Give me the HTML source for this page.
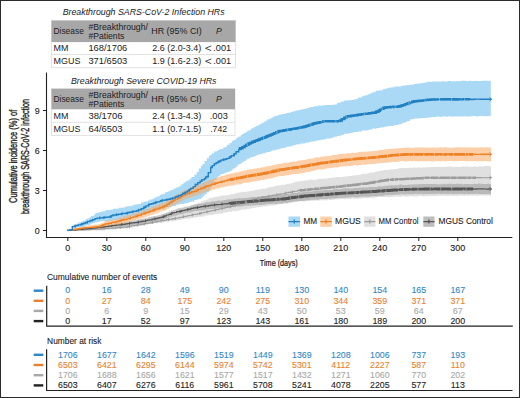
<!DOCTYPE html>
<html><head><meta charset="utf-8"><style>
html,body{margin:0;padding:0;background:#fff;}
body{width:520px;height:398px;overflow:hidden;position:relative;font-family:"Liberation Sans",sans-serif;}
#frame{position:absolute;left:0;top:0;width:518px;height:396px;border:1px solid #2a2a2a;}
svg{position:absolute;left:0;top:0;}
svg text{font-family:"Liberation Sans",sans-serif;}
</style></head><body>
<div id="frame"></div>
<svg width="520" height="398" viewBox="0 0 520 398">
<g id="plot">
<path d="M67.7,230.5V230.5H69.3V229.9H71.4V230.2H73.1V229.6H75.3V229.4H77.5V229.5H78.8V229.2H80.0V229.0H82.6V229.1H84.2V228.7H85.8V228.3H88.6V228.0H90.5V228.1H93.1V227.6H95.0V227.6H97.2V227.1H98.7V226.8H100.9V226.8H103.5V226.7H105.5V226.1H107.9V226.2H110.2V226.0H111.5V225.8H113.9V225.5H116.0V224.8H117.7V225.0H119.0V225.0H121.6V224.2H123.5V224.1H125.9V223.8H128.5V223.6H130.8V223.2H133.5V222.9H135.3V222.7H137.8V221.9H139.7V221.6H142.4V221.3H145.0V221.0H146.4V220.7H147.8V221.1H149.3V220.7H152.1V219.9H154.0V219.7H156.2V219.1H157.9V218.6H159.9V218.2H161.7V217.9H163.5V217.4H165.6V216.7H167.7V216.1H170.4V215.3H172.7V214.1H175.3V213.2H177.9V212.2H180.7V210.9H183.0V209.9H184.4V209.0H187.0V207.9H189.8V206.7H192.4V205.7H194.5V204.4H196.9V203.8H198.4V202.7H200.9V201.6H203.0V200.7H204.7V200.2H206.0V199.5H208.6V198.1H211.4V197.7H212.7V197.3H215.2V196.8H217.0V196.7H218.5V196.5H220.1V195.8H222.6V195.6H225.2V195.3H226.4V195.3H228.6V194.9H229.9V194.2H232.2V194.1H234.0V193.6H236.6V192.8H239.4V192.4H241.4V191.8H244.2V191.9H245.9V191.6H247.2V191.4H249.3V191.1H250.6V190.9H252.1V190.7H254.0V190.3H256.1V189.7H257.6V189.8H258.8V189.2H261.4V188.8H263.1V188.7H265.9V187.7H268.5V187.3H270.3V186.9H272.2V187.0H274.3V186.1H276.5V185.6H278.7V185.6H280.8V184.8H283.0V184.7H285.7V184.1H287.7V183.8H289.6V183.4H291.9V182.7H293.5V182.5H295.2V181.5H297.9V181.4H300.0V180.9H302.0V180.9H303.3V180.4H305.1V180.5H307.3V180.5H308.5V179.8H310.7V179.7H312.9V179.7H314.2V179.7H316.4V179.2H318.3V178.9H320.6V178.8H322.4V178.8H324.7V178.6H327.1V178.2H328.3V178.1H329.6V177.9H331.9V177.6H334.7V177.5H336.3V177.1H338.2V177.1H340.3V177.2H342.0V176.7H343.8V176.7H345.5V176.2H347.3V176.3H349.5V176.1H351.2V175.8H353.0V175.5H355.4V175.2H356.6V175.1H358.7V174.8H361.1V174.0H362.8V173.7H364.4V173.7H366.9V173.5H368.4V173.0H369.9V172.6H371.8V172.4H374.2V171.8H375.5V171.5H377.2V171.2H379.0V171.0H381.5V170.5H383.4V170.0H386.0V170.1H387.4V170.0H389.2V169.4H391.4V169.3H394.0V168.9H396.0V168.9H397.5V168.6H398.9V168.2H401.0V168.1H402.5V167.9H405.0V168.0H407.5V167.9H409.0V167.7H410.6V167.7H413.1V167.6H415.4V167.8H417.8V167.3H419.6V167.7H421.0V167.4H422.7V167.4H425.1V167.2H426.8V167.3H428.5V167.3H430.4V167.0H432.3V167.0H434.1V167.1H436.8V167.1H438.2V166.8H439.5V167.0H442.2V167.1H444.8V166.8H447.5V166.6H449.4V166.6H452.2V166.9H454.8V166.8H456.4V167.0H458.8V166.9H461.3V166.5H463.6V166.4H465.6V166.4H467.3V166.4H469.0V166.7H470.6V166.7H471.9V166.8H474.0V166.3H475.7V166.7H478.2V166.3H479.5V166.4H482.1V166.5H484.4V166.1H487.1V166.1H489.7V166.5H491.0V195.7H489.7V195.4H487.1V195.7H484.4V195.3H482.1V195.4H479.5V195.5H478.2V195.7H475.7V195.5H474.0V195.7H471.9V195.5H470.6V195.6H469.0V196.0H467.3V195.5H465.6V195.7H463.6V195.8H461.3V195.6H458.8V196.0H456.4V195.8H454.8V195.9H452.2V195.7H449.4V195.7H447.5V196.0H444.8V195.8H442.2V195.8H439.5V195.8H438.2V195.9H436.8V196.1H434.1V195.9H432.3V196.0H430.4V196.0H428.5V196.2H426.8V196.0H425.1V196.4H422.7V196.1H421.0V196.0H419.6V196.1H417.8V196.4H415.4V196.4H413.1V196.3H410.6V196.3H409.0V196.5H407.5V196.7H405.0V196.3H402.5V196.4H401.0V196.7H398.9V196.6H397.5V196.5H396.0V196.8H394.0V196.8H391.4V197.0H389.2V197.2H387.4V197.1H386.0V197.0H383.4V197.1H381.5V197.1H379.0V197.2H377.2V197.3H375.5V197.6H374.2V197.9H371.8V197.8H369.9V198.1H368.4V198.2H366.9V198.2H364.4V198.1H362.8V198.4H361.1V198.5H358.7V198.7H356.6V198.6H355.4V198.8H353.0V198.5H351.2V198.9H349.5V199.1H347.3V198.8H345.5V199.3H343.8V199.1H342.0V199.0H340.3V199.2H338.2V199.3H336.3V199.3H334.7V199.7H331.9V200.0H329.6V199.7H328.3V200.2H327.1V200.3H324.7V200.2H322.4V200.3H320.6V200.5H318.3V200.5H316.4V200.4H314.2V200.8H312.9V200.7H310.7V200.9H308.5V201.1H307.3V201.2H305.1V201.4H303.3V201.5H302.0V201.1H300.0V201.8H297.9V202.0H295.2V202.3H293.5V202.7H291.9V202.7H289.6V203.2H287.7V203.6H285.7V203.7H283.0V204.0H280.8V204.3H278.7V204.5H276.5V205.2H274.3V205.4H272.2V205.6H270.3V205.4H268.5V206.2H265.9V206.2H263.1V206.5H261.4V207.0H258.8V207.3H257.6V207.3H256.1V207.7H254.0V207.9H252.1V208.5H250.6V208.8H249.3V209.1H247.2V209.3H245.9V209.4H244.2V209.6H241.4V210.0H239.4V210.7H236.6V211.2H234.0V211.1H232.2V211.5H229.9V211.9H228.6V212.0H226.4V212.8H225.2V212.8H222.6V213.4H220.1V213.6H218.5V213.8H217.0V214.0H215.2V214.4H212.7V215.0H211.4V215.0H208.6V215.6H206.0V215.6H204.7V216.4H203.0V216.4H200.9V216.7H198.4V217.1H196.9V217.6H194.5V217.8H192.4V218.3H189.8V218.7H187.0V218.8H184.4V219.1H183.0V219.5H180.7V220.0H177.9V220.5H175.3V220.9H172.7V221.3H170.4V221.6H167.7V221.7H165.6V221.8H163.5V222.5H161.7V222.3H159.9V222.8H157.9V223.2H156.2V223.0H154.0V223.5H152.1V223.8H149.3V223.9H147.8V224.4H146.4V224.8H145.0V225.2H142.4V225.5H139.7V226.1H137.8V226.3H135.3V227.0H133.5V227.5H130.8V228.2H128.5V228.6H125.9V228.5H123.5V229.0H121.6V229.1H119.0V229.2H117.7V229.1H116.0V229.5H113.9V229.7H111.5V229.6H110.2V230.1H107.9V229.8H105.5V230.4H103.5V230.6H100.9V230.3H98.7V230.6H97.2V230.4H95.0V230.3H93.1V230.5H90.5V230.4H88.6V230.8H85.8V230.6H84.2V230.3H82.6V230.5H80.0V230.5H78.8V230.4H77.5V230.2H75.3V230.6H73.1V230.5H71.4V230.4H69.3V230.4H67.7Z" fill="#c7c7c7" fill-opacity="0.55"/>
<path d="M67.7,230.1V229.9H69.6V229.6H72.3V229.1H74.0V229.2H75.6V228.8H77.2V228.6H79.7V228.3H82.0V228.3H83.7V227.9H85.1V227.5H87.3V227.0H90.1V226.9H92.2V226.8H93.5V226.7H94.7V226.6H96.0V226.3H97.5V225.8H98.8V225.6H100.1V225.7H102.3V225.3H104.9V224.8H106.5V224.7H109.2V224.2H111.2V223.7H113.7V223.2H116.3V222.7H119.0V222.8H120.3V222.7H122.0V222.4H124.2V221.7H126.9V221.5H128.2V221.4H129.9V221.0H132.4V220.6H133.8V220.2H135.7V220.0H137.4V219.4H139.7V218.9H142.4V218.8H143.8V218.6H146.2V217.8H148.6V217.1H151.1V216.6H153.2V216.1H155.9V215.8H157.7V215.2H159.5V215.1H161.1V214.0H163.6V213.3H165.5V212.7H167.2V212.0H168.6V211.5H171.0V210.6H173.2V209.9H175.5V209.1H177.3V208.3H179.3V208.2H180.7V207.7H183.1V207.2H184.3V206.7H186.3V206.4H188.7V206.0H191.0V205.1H192.3V205.0H193.9V204.4H196.4V204.0H198.7V203.8H201.3V203.4H203.9V202.8H205.8V202.2H208.4V202.2H210.8V201.4H212.5V201.3H214.3V201.4H215.6V200.9H217.5V200.6H220.2V200.8H221.6V200.6H223.7V200.0H225.1V199.9H226.4V199.6H228.6V199.3H230.2V199.2H231.5V199.5H232.9V198.7H235.2V198.6H237.3V198.4H238.5V198.1H240.1V198.2H242.8V198.1H244.4V198.0H246.5V197.7H248.4V197.6H250.8V196.9H253.0V196.9H255.4V197.1H257.5V196.4H259.0V196.4H260.5V196.4H261.8V196.1H264.3V196.1H265.7V195.7H266.9V195.7H269.7V196.0H271.2V195.3H273.8V195.6H275.2V195.1H277.1V195.4H278.7V195.1H281.2V194.9H283.4V194.3H285.6V194.0H288.0V194.0H290.6V193.3H292.4V193.1H294.5V193.1H296.5V192.9H297.8V192.2H300.4V192.4H302.5V192.0H305.0V191.7H306.6V191.4H308.6V191.4H310.6V191.6H312.9V191.0H314.3V190.8H316.0V190.6H318.0V190.5H319.3V190.5H321.4V190.6H323.8V189.9H325.6V189.8H327.9V190.1H330.0V190.0H331.6V189.8H333.3V189.2H336.1V189.1H337.9V189.3H339.8V188.9H341.1V188.9H342.6V188.6H344.1V188.3H346.8V188.3H349.2V188.4H351.8V188.3H354.5V188.0H356.7V187.8H359.4V187.7H361.5V187.5H363.3V187.4H366.1V187.4H368.7V186.9H371.4V187.0H373.4V187.0H375.8V186.9H377.7V186.3H380.5V186.5H383.1V186.3H384.8V185.7H387.5V185.6H389.0V185.5H390.4V185.2H392.7V185.6H394.4V185.1H396.4V185.3H398.6V184.7H399.9V184.5H402.3V185.0H403.9V184.9H405.8V184.9H407.6V184.7H410.0V184.5H412.4V184.6H414.0V184.2H415.4V184.4H417.1V184.3H418.9V184.1H420.3V184.3H421.7V184.1H424.1V184.1H426.4V184.0H429.2V183.9H432.0V183.9H434.6V184.0H436.4V184.3H437.8V184.2H439.5V184.2H441.5V184.2H443.5V183.8H445.6V184.2H447.3V183.8H449.9V183.7H451.6V183.9H453.5V184.1H456.1V183.8H458.6V184.0H460.3V183.8H461.9V184.2H464.4V183.9H465.6V183.9H467.0V183.9H469.0V184.1H471.1V184.2H472.6V183.9H473.9V183.8H475.4V183.9H477.8V183.6H479.8V183.8H482.5V184.0H485.0V184.0H487.7V183.5H489.0V184.0H490.5V183.7H491.0V194.5H490.5V194.2H489.0V193.9H487.7V194.0H485.0V194.2H482.5V194.0H479.8V194.1H477.8V193.8H475.4V193.9H473.9V194.1H472.6V194.0H471.1V193.9H469.0V194.0H467.0V193.8H465.6V194.2H464.4V193.9H461.9V194.0H460.3V193.8H458.6V193.9H456.1V194.0H453.5V194.1H451.6V193.8H449.9V194.0H447.3V193.9H445.6V193.8H443.5V194.0H441.5V194.0H439.5V193.6H437.8V193.7H436.4V194.0H434.6V194.0H432.0V194.1H429.2V193.9H426.4V194.1H424.1V194.2H421.7V193.9H420.3V194.0H418.9V194.2H417.1V193.8H415.4V193.9H414.0V194.3H412.4V194.2H410.0V194.2H407.6V194.2H405.8V194.5H403.9V194.3H402.3V194.3H399.9V194.6H398.6V194.6H396.4V194.4H394.4V194.9H392.7V195.1H390.4V195.0H389.0V195.3H387.5V195.1H384.8V195.5H383.1V195.9H380.5V195.7H377.7V196.3H375.8V196.3H373.4V196.0H371.4V196.4H368.7V196.7H366.1V196.5H363.3V196.8H361.5V196.8H359.4V197.2H356.7V197.2H354.5V196.9H351.8V197.3H349.2V197.6H346.8V197.7H344.1V197.7H342.6V197.7H341.1V198.0H339.8V197.8H337.9V198.2H336.1V198.4H333.3V198.3H331.6V198.7H330.0V198.5H327.9V198.9H325.6V199.0H323.8V199.0H321.4V199.1H319.3V199.4H318.0V199.7H316.0V199.6H314.3V199.7H312.9V199.8H310.6V200.1H308.6V200.3H306.6V200.2H305.0V200.8H302.5V201.0H300.4V201.0H297.8V201.3H296.5V201.2H294.5V201.6H292.4V201.9H290.6V202.3H288.0V203.0H285.6V202.8H283.4V203.5H281.2V203.6H278.7V203.4H277.1V203.9H275.2V203.6H273.8V203.8H271.2V204.0H269.7V203.9H266.9V204.1H265.7V204.5H264.3V204.7H261.8V204.9H260.5V204.9H259.0V204.8H257.5V205.1H255.4V205.2H253.0V205.2H250.8V205.8H248.4V205.6H246.5V205.7H244.4V206.1H242.8V206.4H240.1V206.8H238.5V206.5H237.3V206.8H235.2V207.2H232.9V207.1H231.5V207.1H230.2V207.2H228.6V207.7H226.4V207.8H225.1V208.2H223.7V207.8H221.6V208.3H220.2V208.1H217.5V208.5H215.6V208.5H214.3V209.1H212.5V209.1H210.8V209.2H208.4V209.5H205.8V210.1H203.9V210.5H201.3V210.5H198.7V210.9H196.4V211.0H193.9V211.4H192.3V212.3H191.0V212.5H188.7V212.8H186.3V213.1H184.3V213.8H183.1V214.3H180.7V214.2H179.3V214.8H177.3V215.4H175.5V215.8H173.2V216.4H171.0V217.3H168.6V217.9H167.2V218.4H165.5V219.0H163.6V220.1H161.1V220.2H159.5V220.7H157.7V220.9H155.9V221.3H153.2V222.1H151.1V222.7H148.6V222.8H146.2V223.3H143.8V223.9H142.4V224.1H139.7V224.4H137.4V225.0H135.7V224.8H133.8V225.3H132.4V225.4H129.9V226.0H128.2V226.1H126.9V226.4H124.2V226.7H122.0V226.8H120.3V227.2H119.0V227.2H116.3V227.2H113.7V227.7H111.2V228.0H109.2V228.1H106.5V228.4H104.9V228.9H102.3V229.1H100.1V229.2H98.8V229.2H97.5V229.5H96.0V229.8H94.7V229.7H93.5V229.6H92.2V229.7H90.1V229.9H87.3V230.0H85.1V230.1H83.7V230.4H82.0V230.6H79.7V230.4H77.2V230.8H75.6V230.7H74.0V230.5H72.3V230.7H69.6V231.2H67.7Z" fill="#999999" fill-opacity="0.55"/>
<path d="M67.7,230.5V230.2H70.3V229.7H72.3V225.3H74.2V224.3H75.5V224.1H77.1V223.3H78.8V222.3H81.5V221.6H82.9V220.8H85.6V219.3H87.6V218.2H89.5V217.3H91.1V215.9H93.8V214.7H95.3V213.1H97.4V212.6H99.5V212.1H101.0V211.7H102.5V211.3H105.3V210.3H107.8V210.1H110.1V209.7H112.8V208.8H114.2V208.7H116.5V208.5H118.9V207.8H120.4V207.8H122.4V207.5H125.1V206.8H126.9V206.3H129.3V205.9H130.7V205.8H133.0V205.1H134.6V204.6H136.6V204.2H138.4V203.9H141.0V202.6H143.4V201.7H145.4V201.5H147.7V200.4H149.6V199.6H152.1V199.0H153.7V197.8H155.8V196.7H157.9V196.2H159.7V195.1H161.0V194.4H162.5V193.9H164.7V192.6H166.3V192.1H168.7V190.9H170.7V189.9H173.4V188.6H176.0V187.6H178.3V186.5H180.1V185.5H181.4V184.3H183.5V182.5H185.9V181.1H188.5V179.7H190.1V178.6H191.5V177.0H194.3V174.7H196.7V171.9H198.7V168.6H201.0V165.8H202.5V163.9H204.5V160.9H206.8V158.3H209.0V155.9H210.4V154.4H211.9V153.3H214.1V151.4H216.7V150.9H218.1V149.9H219.3V149.2H220.6V148.9H223.1V147.6H224.9V147.0H226.8V144.7H229.6V142.9H231.8V141.0H233.4V139.9H235.8V138.4H237.0V137.4H238.6V136.4H240.9V135.1H242.4V134.1H243.7V133.0H245.7V132.1H247.4V130.4H250.2V129.6H251.5V128.3H254.0V127.0H255.8V126.0H258.3V124.7H260.2V123.6H262.5V122.6H264.2V121.6H265.8V120.6H267.7V119.3H270.2V118.2H271.9V117.5H273.5V116.3H275.4V115.9H276.7V115.4H278.4V114.7H280.5V114.2H282.6V114.1H284.8V113.4H286.4V113.0H287.7V112.8H288.9V112.7H290.7V112.0H292.2V111.5H294.3V111.1H295.9V110.4H298.3V110.1H300.5V109.5H302.8V109.0H305.1V108.4H307.2V107.9H309.0V107.6H310.7V106.9H312.0V106.9H314.5V105.9H316.5V106.2H317.9V105.6H320.6V105.8H322.7V105.2H324.9V104.9H326.8V105.1H328.2V105.1H331.0V104.9H332.5V104.7H334.2V104.5H337.0V103.1H338.4V102.7H340.4V101.7H342.4V101.4H344.0V100.4H346.7V100.4H348.5V100.3H349.8V100.2H351.7V99.9H352.9V99.8H355.3V98.9H357.8V97.6H360.5V97.4H361.8V96.2H364.1V95.4H365.7V95.2H367.7V94.2H369.4V93.7H371.1V92.8H372.5V92.2H374.7V91.8H376.0V90.8H378.8V90.5H380.0V90.2H382.8V89.2H384.3V89.0H385.6V88.5H388.0V87.8H390.1V87.5H392.5V87.2H394.5V86.5H396.7V86.4H398.0V86.4H400.3V86.3H402.3V85.6H405.1V85.6H406.3V85.1H407.6V85.3H409.9V84.7H412.6V84.4H414.4V84.1H416.8V83.5H418.9V83.5H420.7V83.3H422.6V83.0H424.8V82.4H426.1V82.2H427.7V81.8H430.1V82.0H431.7V81.6H433.7V81.6H435.3V81.6H437.1V81.6H439.3V81.4H441.7V81.3H444.4V81.5H446.4V81.5H447.9V81.1H449.7V81.0H451.0V81.5H452.5V81.3H454.7V81.2H456.9V81.0H458.4V81.3H459.9V80.9H461.3V80.8H462.8V80.7H464.8V80.8H466.4V80.9H469.0V80.7H471.1V81.1H472.8V80.9H474.7V80.8H476.0V80.9H478.4V80.9H480.8V80.9H482.6V80.8H484.9V80.8H486.6V80.8H488.1V81.0H489.7V80.6H490.8V116.2H489.7V116.0H488.1V116.3H486.6V115.9H484.9V116.3H482.6V115.9H480.8V116.0H478.4V116.4H476.0V116.0H474.7V116.0H472.8V115.9H471.1V116.6H469.0V116.6H466.4V116.3H464.8V116.2H462.8V116.5H461.3V116.4H459.9V116.6H458.4V116.6H456.9V116.4H454.7V116.5H452.5V116.7H451.0V116.6H449.7V116.3H447.9V116.7H446.4V116.4H444.4V116.4H441.7V116.9H439.3V116.4H437.1V116.7H435.3V117.2H433.7V117.0H431.7V117.5H430.1V117.4H427.7V117.7H426.1V118.0H424.8V117.9H422.6V117.9H420.7V118.3H418.9V118.6H416.8V118.4H414.4V119.1H412.6V119.4H409.9V120.9H407.6V121.6H406.3V122.2H405.1V122.7H402.3V123.9H400.3V124.4H398.0V125.0H396.7V125.1H394.5V125.7H392.5V126.1H390.1V126.1H388.0V126.6H385.6V126.7H384.3V127.3H382.8V127.4H380.0V127.9H378.8V128.3H376.0V128.8H374.7V128.6H372.5V129.4H371.1V129.5H369.4V129.9H367.7V130.4H365.7V130.5H364.1V130.6H361.8V131.4H360.5V131.6H357.8V132.0H355.3V132.3H352.9V132.7H351.7V132.9H349.8V133.3H348.5V133.7H346.7V133.8H344.0V134.7H342.4V135.3H340.4V135.9H338.4V136.1H337.0V136.8H334.2V137.6H332.5V138.0H331.0V138.4H328.2V138.4H326.8V138.9H324.9V139.4H322.7V139.7H320.6V140.2H317.9V140.5H316.5V141.0H314.5V141.6H312.0V141.6H310.7V141.9H309.0V142.6H307.2V142.8H305.1V143.4H302.8V143.5H300.5V144.2H298.3V144.4H295.9V144.9H294.3V145.6H292.2V146.2H290.7V146.5H288.9V146.8H287.7V146.7H286.4V147.5H284.8V147.9H282.6V148.3H280.5V149.0H278.4V149.6H276.7V149.7H275.4V150.3H273.5V150.5H271.9V151.2H270.2V151.9H267.7V152.2H265.8V153.2H264.2V153.3H262.5V154.1H260.2V154.5H258.3V155.2H255.8V156.2H254.0V156.9H251.5V157.5H250.2V158.4H247.4V159.8H245.7V160.9H243.7V161.9H242.4V163.0H240.9V164.1H238.6V165.5H237.0V166.8H235.8V168.3H233.4V169.5H231.8V170.9H229.6V171.9H226.8V172.8H224.9V173.5H223.1V174.0H220.6V175.6H219.3V176.2H218.1V177.5H216.7V179.9H214.1V184.3H211.9V187.8H210.4V190.1H209.0V192.3H206.8V194.2H204.5V196.3H202.5V198.0H201.0V198.7H198.7V199.6H196.7V200.0H194.3V201.4H191.5V202.1H190.1V202.3H188.5V203.0H185.9V203.6H183.5V204.1H181.4V204.1H180.1V204.4H178.3V204.8H176.0V206.0H173.4V206.2H170.7V207.2H168.7V207.3H166.3V208.2H164.7V208.7H162.5V208.9H161.0V209.5H159.7V210.0H157.9V210.0H155.8V210.6H153.7V211.0H152.1V211.5H149.6V212.2H147.7V212.9H145.4V213.3H143.4V214.0H141.0V214.4H138.4V215.1H136.6V215.7H134.6V216.3H133.0V216.6H130.7V217.2H129.3V217.7H126.9V218.1H125.1V218.9H122.4V219.7H120.4V219.5H118.9V220.0H116.5V220.3H114.2V220.3H112.8V220.9H110.1V221.2H107.8V221.2H105.3V221.0H102.5V221.2H101.0V221.2H99.5V222.0H97.4V222.3H95.3V222.9H93.8V223.5H91.1V224.6H89.5V225.2H87.6V225.6H85.6V226.4H82.9V226.6H81.5V227.2H78.8V227.3H77.1V227.5H75.5V227.5H74.2V228.2H72.3V230.2H70.3V230.6H67.7Z" fill="#64baef" fill-opacity="0.55"/>
<path d="M67.7,230.1V230.1H70.2V229.6H71.7V228.7H74.2V228.4H76.1V227.8H77.6V227.9H78.9V227.1H81.2V226.6H83.3V226.2H85.0V226.2H87.5V225.6H89.0V225.4H91.0V225.2H92.3V225.0H94.1V224.6H96.7V224.6H98.7V224.0H100.1V223.5H101.7V222.8H103.9V221.5H105.6V220.8H108.2V220.8H109.5V220.0H112.1V219.8H114.3V219.2H116.8V218.4H118.6V217.9H119.9V217.4H121.3V217.3H123.5V216.6H124.8V216.2H126.2V215.5H128.6V214.8H131.2V214.3H133.8V213.0H136.3V212.5H138.4V211.8H141.0V210.8H143.3V209.9H145.4V209.1H147.3V208.3H148.5V208.2H149.9V207.7H151.5V206.8H153.4V206.0H154.8V205.6H157.6V204.3H159.7V203.5H162.1V202.8H164.7V202.0H166.3V200.4H168.9V198.3H171.6V197.4H173.3V196.0H174.7V195.0H177.1V193.9H179.8V192.4H182.2V191.1H184.1V189.7H186.3V189.5H187.6V188.7H189.2V187.8H191.1V187.5H193.5V186.9H194.8V185.6H197.5V185.0H198.7V184.4H201.5V183.1H203.1V182.1H205.6V181.3H208.1V180.1H210.8V179.6H212.8V178.7H215.1V178.0H216.8V177.3H219.3V176.4H220.7V176.1H223.3V175.4H225.4V174.8H226.7V174.3H229.4V173.7H231.1V173.2H232.4V173.3H234.1V172.7H235.3V172.2H237.0V172.2H239.3V171.4H242.1V171.0H244.3V170.3H246.8V169.7H249.4V169.3H251.7V169.2H253.5V168.6H255.1V168.8H256.6V168.1H258.7V168.2H260.2V167.4H262.6V167.2H264.3V166.7H266.4V166.3H268.5V166.0H270.7V165.5H272.1V165.3H273.7V164.7H276.0V164.3H277.6V163.9H279.9V163.8H282.6V162.9H284.4V162.8H287.2V162.7H289.3V162.1H292.1V161.6H294.1V161.7H296.5V160.8H298.8V160.5H300.3V160.2H302.3V160.1H304.5V159.9H306.4V159.2H308.7V158.8H311.3V158.6H313.8V157.7H316.3V157.3H317.7V157.4H320.0V156.7H322.2V156.6H324.9V156.1H326.2V156.2H327.6V156.0H330.4V155.5H332.2V155.1H334.5V155.0H336.7V154.7H338.5V154.1H340.4V154.0H342.5V153.8H345.3V153.6H347.3V153.2H349.8V153.2H351.5V152.8H353.8V152.9H356.0V152.4H358.4V152.1H361.0V151.8H362.3V151.7H365.1V151.5H367.2V151.7H368.8V151.3H370.8V151.2H372.1V151.3H373.7V151.1H376.3V150.8H378.6V150.1H381.2V149.9H382.6V149.8H384.0V149.5H385.8V149.3H387.8V148.9H390.2V148.7H391.8V148.8H394.2V148.6H396.3V148.3H398.0V148.2H400.5V148.1H401.8V148.1H403.9V147.5H405.4V147.9H406.7V147.6H408.7V147.6H410.7V147.9H412.9V147.8H414.7V147.6H417.4V147.4H419.8V147.6H421.3V147.6H422.5V147.5H425.2V147.4H427.1V147.7H428.4V147.5H429.9V147.8H432.2V147.6H433.7V147.5H435.5V147.8H437.8V147.5H439.6V147.3H441.8V147.4H444.5V147.3H447.0V147.5H449.2V147.8H451.4V147.8H453.1V147.6H455.3V147.3H457.6V147.3H459.7V147.3H461.7V147.4H464.1V147.6H465.6V147.2H468.0V147.5H470.7V147.4H472.0V147.6H473.6V147.6H476.4V147.4H477.7V147.5H480.2V147.3H482.3V147.4H483.6V147.5H485.8V147.1H487.1V147.4H489.6V147.4H491.0V161.4H489.6V161.5H487.1V161.0H485.8V161.1H483.6V161.3H482.3V161.2H480.2V161.2H477.7V161.4H476.4V161.1H473.6V161.2H472.0V161.2H470.7V161.0H468.0V161.3H465.6V161.0H464.1V161.1H461.7V160.9H459.7V160.9H457.6V161.3H455.3V161.3H453.1V160.9H451.4V161.0H449.2V161.1H447.0V161.3H444.5V161.1H441.8V161.3H439.6V161.3H437.8V161.1H435.5V161.4H433.7V161.4H432.2V161.3H429.9V161.0H428.4V161.1H427.1V161.2H425.2V161.3H422.5V161.2H421.3V161.0H419.8V161.4H417.4V161.2H414.7V160.9H412.9V161.2H410.7V161.1H408.7V161.3H406.7V161.4H405.4V161.4H403.9V161.1H401.8V161.1H400.5V161.6H398.0V161.9H396.3V162.0H394.2V161.8H391.8V162.2H390.2V162.4H387.8V162.7H385.8V162.8H384.0V162.9H382.6V163.1H381.2V163.3H378.6V163.4H376.3V163.8H373.7V164.1H372.1V164.0H370.8V164.1H368.8V164.2H367.2V164.7H365.1V164.6H362.3V164.9H361.0V164.9H358.4V165.4H356.0V165.0H353.8V165.8H351.5V165.9H349.8V166.1H347.3V166.5H345.3V166.3H342.5V166.6H340.4V166.7H338.5V167.5H336.7V167.6H334.5V167.8H332.2V168.0H330.4V168.2H327.6V168.6H326.2V168.8H324.9V169.2H322.2V169.4H320.0V169.6H317.7V170.1H316.3V170.3H313.8V171.0H311.3V171.8H308.7V172.1H306.4V172.4H304.5V172.9H302.3V173.4H300.3V173.6H298.8V173.9H296.5V173.9H294.1V174.1H292.1V174.8H289.3V175.3H287.2V175.6H284.4V176.1H282.6V176.0H279.9V176.3H277.6V176.7H276.0V177.3H273.7V178.0H272.1V178.3H270.7V178.4H268.5V179.0H266.4V179.5H264.3V180.0H262.6V180.1H260.2V180.7H258.7V180.7H256.6V181.4H255.1V181.5H253.5V181.4H251.7V182.3H249.4V182.8H246.8V182.8H244.3V183.3H242.1V184.2H239.3V184.6H237.0V184.6H235.3V185.2H234.1V185.4H232.4V185.4H231.1V185.8H229.4V186.0H226.7V186.7H225.4V186.8H223.3V187.5H220.7V187.8H219.3V188.5H216.8V188.5H215.1V189.6H212.8V189.9H210.8V190.9H208.1V191.6H205.6V192.6H203.1V193.3H201.5V194.4H198.7V194.7H197.5V195.5H194.8V196.5H193.5V196.8H191.1V197.4H189.2V198.2H187.6V198.5H186.3V199.2H184.1V200.2H182.2V201.4H179.8V202.6H177.1V203.9H174.7V205.1H173.3V205.5H171.6V207.3H168.9V208.8H166.3V210.2H164.7V210.8H162.1V211.6H159.7V212.6H157.6V213.5H154.8V213.7H153.4V214.7H151.5V214.9H149.9V215.7H148.5V216.0H147.3V216.7H145.4V217.4H143.3V218.2H141.0V218.7H138.4V219.5H136.3V220.1H133.8V220.7H131.2V221.4H128.6V222.5H126.2V222.9H124.8V223.1H123.5V223.5H121.3V223.9H119.9V224.4H118.6V224.6H116.8V225.1H114.3V225.7H112.1V226.1H109.5V226.0H108.2V226.5H105.6V227.2H103.9V227.7H101.7V229.0H100.1V229.5H98.7V229.1H96.7V229.3H94.1V229.0H92.3V229.4H91.0V229.3H89.0V229.2H87.5V229.3H85.0V229.4H83.3V229.6H81.2V229.8H78.9V229.8H77.6V229.9H76.1V230.2H74.2V230.6H71.7V230.5H70.2V230.6H67.7Z" fill="#f9a862" fill-opacity="0.55"/>
<path d="M67.7,230.5V230.4H69.8V230.3H71.8V230.2H74.0V230.1H75.6V230.1H76.9V230.0H79.0V230.0H81.7V230.0H83.0V229.9H85.8V229.6H87.6V229.6H90.4V229.5H92.8V229.4H94.4V229.2H96.0V229.0H98.6V229.1H101.4V228.9H103.9V228.6H106.0V228.5H108.1V228.2H110.5V228.2H113.0V228.1H115.6V227.9H117.2V227.5H119.8V227.5H122.5V227.3H124.6V227.0H125.8V227.1H127.3V226.6H129.6V226.3H131.4V225.8H134.1V225.5H136.3V225.3H138.7V224.8H140.1V224.6H142.1V224.3H144.5V223.6H147.1V223.3H149.8V223.0H151.4V222.6H153.4V222.1H156.2V221.6H157.5V221.5H158.8V221.2H160.3V220.8H162.7V220.6H164.4V220.2H166.7V219.6H169.3V219.2H171.8V218.9H173.0V218.6H175.3V218.2H177.8V217.7H180.1V217.3H182.7V216.7H185.2V216.2H187.4V215.8H190.0V215.3H192.1V214.9H193.4V214.5H195.1V214.2H197.8V213.8H199.5V213.4H201.5V212.7H204.1V212.3H206.4V211.6H208.8V211.3H210.8V210.8H212.8V210.5H214.1V210.2H215.6V209.6H217.1V209.5H219.1V208.8H221.2V208.7H222.5V208.3H224.7V207.7H226.1V207.4H227.9V207.0H229.1V206.9H231.1V206.3H232.5V205.7H235.2V205.0H237.0V204.2H239.5V203.7H241.5V203.0H243.2V202.3H245.7V201.7H247.4V201.2H249.4V200.4H251.6V199.7H254.4V199.0H256.7V198.5H258.0V198.1H259.9V197.7H262.7V197.2H265.2V196.8H267.0V196.6H268.4V196.1H270.1V195.8H272.5V195.3H274.0V195.1H276.6V194.8H278.2V194.4H280.5V194.0H282.8V193.7H284.4V193.3H286.4V192.8H288.6V192.4H290.3V192.1H292.3V191.6H294.5V191.3H297.3V190.7H298.9V190.5H300.4V190.4H302.4V190.1H304.6V189.8H306.5V189.8H309.2V189.4H310.7V189.4H312.7V189.2H314.7V189.1H316.2V188.8H318.1V188.6H320.1V188.3H321.9V188.1H324.3V188.1H327.1V187.6H329.8V187.3H331.4V187.4H333.2V187.1H335.9V186.9H337.2V186.8H338.6V186.6H339.9V186.3H342.6V186.1H344.6V186.0H346.5V185.8H347.9V185.4H350.5V185.1H353.3V184.9H355.6V184.5H358.2V184.5H360.3V184.2H362.0V183.9H363.5V183.8H365.2V183.7H366.6V183.3H368.4V183.1H369.7V183.0H371.0V182.6H373.6V182.2H376.2V181.6H378.7V181.4H380.4V181.0H382.4V180.6H384.4V180.1H386.9V179.8H388.6V179.6H390.6V179.6H392.7V179.4H395.2V179.3H397.0V179.3H398.2V179.2H400.0V179.1H402.6V179.1H404.1V178.8H406.3V178.9H407.7V178.9H409.4V178.8H411.6V178.8H412.9V178.4H414.9V178.5H417.0V178.3H418.8V178.4H421.2V178.1H423.8V178.1H425.4V178.0H427.8V177.7H430.3V177.6H432.4V177.8H434.6V177.8H436.7V177.7H439.0V177.6H441.3V177.6H443.0V177.8H445.2V177.8H447.6V177.7H449.5V177.8H452.1V177.8H453.8V177.6H455.9V177.8H458.0V177.8H460.2V177.8H461.7V177.8H464.0V177.7H465.3V177.7H467.4V177.6H469.3V177.8H471.6V177.7H474.2V177.7H477.0V177.6H478.5V177.6H481.2V177.7H483.2V177.8H485.2V177.7H486.4V177.8H489.0V177.6H490.6V177.6H491.0" fill="none" stroke="#9c9c9c" stroke-width="1.1"/>
<path d="M300.0,190.5V190.4H301.6V190.2H303.2V190.1H305.7V189.8H307.5V189.7H309.2V189.4H311.5V189.3H313.4V189.0H316.0V188.8H318.3V188.6H320.9V188.2H322.8V188.0H324.6V187.9H326.5V187.7H329.3V187.4H332.0V187.2H334.1V187.0H336.1V186.9H337.4V186.7H340.0V186.5H342.2V186.1H344.0V186.0H345.5V185.8H347.4V185.5H349.8V185.4H351.4V185.1H353.0V185.0H355.0V184.8H357.0V184.5H358.3V184.4H359.6V184.2H361.3V183.9H363.7V183.7H365.5V183.6H366.7V183.4H368.3V183.1H369.8V182.8H372.2V182.5H373.8V182.0H376.6V181.6H378.2V181.4H379.7V181.1H381.0V180.8H382.9V180.6H385.0V180.2H387.4V179.7H389.7V179.7H391.8V179.7H393.0V179.5H395.7V179.4H397.3V179.2H398.9V179.1H400.4V179.2H402.5V179.1H404.8V178.9H406.5V178.9H408.1V178.7H409.3V178.8H411.5V178.6H413.8V178.5H415.2V178.4H416.8V178.3H419.2V178.2H421.5V178.2H422.9V177.9H425.7V177.8H428.1V177.7H430.4V177.7H432.1V177.8H434.9V177.7H436.8V177.8H439.0V177.7H441.8V177.7H444.3V177.7H445.8V177.8H447.2V177.7H448.7V177.7H450.1V177.7H452.7V177.6H454.8V177.7H456.8V177.7H458.5V177.7H460.5V177.7H462.4V177.7H464.8V177.7H466.7V177.7H469.2V177.6H471.8V177.8H474.4V177.8H476.0" fill="none" stroke="#9c9c9c" stroke-width="2.4" stroke-dasharray="14 1 9 0.9 17 1"/>
<path d="M67.7,230.5V230.5H69.8V230.1H71.7V230.0H73.4V230.1H75.4V229.7H77.2V229.5H78.8V229.4H81.5V229.4H83.3V229.0H84.8V228.9H87.1V228.7H88.3V228.7H90.1V228.3H92.2V228.1H94.7V227.9H96.4V227.8H97.6V227.5H100.4V227.3H101.6V227.2H103.5V226.8H105.5V226.5H108.3V226.1H110.0V226.2H111.6V225.7H113.3V225.5H115.1V225.4H116.5V225.0H119.2V224.8H121.2V224.4H123.6V224.3H125.2V223.9H127.5V223.5H130.1V223.1H131.7V222.9H134.4V222.6H136.1V222.3H138.4V221.9H141.1V221.4H143.1V221.1H145.8V220.5H147.6V220.1H149.5V219.8H152.2V219.2H154.3V218.8H155.6V218.6H157.1V218.2H159.1V217.7H160.9V217.4H162.2V216.8H164.7V215.9H166.4V215.0H169.0V214.3H170.8V213.5H172.3V212.9H174.2V212.5H176.7V211.7H179.4V211.3H181.5V210.6H183.1V210.3H185.1V210.0H186.7V209.5H188.5V209.4H189.7V209.1H190.9V208.4H193.6V207.8H196.1V207.7H197.7V207.4H199.8V207.0H201.1V206.6H203.6V206.2H205.8V206.1H208.2V205.7H210.1V205.4H211.9V205.1H214.5V204.9H216.2V204.7H217.5V204.6H218.9V204.5H221.5V204.2H223.2V204.0H224.5V203.8H226.6V203.7H228.0V203.6H229.9V203.2H232.3V203.2H233.9V202.9H235.8V202.6H238.5V202.3H241.0V202.2H243.6V201.9H244.9V201.7H247.7V201.5H249.7V201.5H251.2V201.2H254.0V200.9H255.4V200.8H258.1V200.7H259.4V200.6H260.7V200.4H262.7V200.4H264.8V200.2H267.0V199.9H269.5V199.8H270.9V199.7H273.2V199.5H274.9V199.5H277.7V199.2H279.9V199.1H282.2V199.1H283.6V198.7H286.2V198.4H287.9V198.2H289.4V198.0H291.3V197.5H293.8V197.3H295.5V197.0H297.4V196.7H299.6V196.7H301.2V196.5H302.6V196.3H304.4V196.0H306.8V196.0H309.1V195.8H310.6V195.8H312.9V195.5H315.4V195.2H317.7V195.2H319.2V195.0H320.5V194.8H323.3V194.7H325.6V194.4H327.2V194.2H329.6V194.0H331.7V194.0H333.9V193.7H335.7V193.5H338.0V193.3H339.8V193.5H341.6V193.2H343.3V193.3H345.7V193.1H348.3V193.0H350.0V192.7H351.3V192.9H352.9V192.6H355.3V192.6H357.1V192.5H358.3V192.2H360.8V192.1H362.7V192.2H364.0V191.9H366.4V191.7H368.4V191.6H371.0V191.6H373.5V191.4H376.0V191.4H378.7V191.0H380.5V190.9H383.0V190.8H385.0V190.7H387.2V190.6H388.8V190.4H391.0V190.3H392.3V190.2H394.8V190.0H396.3V189.8H398.4V189.6H401.0V189.6H403.5V189.4H406.1V189.4H408.0V189.4H409.3V189.3H412.1V189.3H413.7V189.1H416.3V189.4H418.2V189.1H420.1V189.1H422.2V189.0H424.2V189.0H426.7V189.1H428.8V189.1H430.3V188.9H432.3V189.0H433.7V188.9H436.2V188.9H437.7V188.9H439.5V189.1H441.7V188.8H443.4V188.8H446.0V189.0H448.5V188.9H450.2V188.8H452.1V188.9H454.5V188.9H456.5V188.9H458.7V188.9H460.5V188.9H462.6V188.9H464.7V188.9H467.4V189.0H469.1V188.9H471.6V188.9H473.2V189.1H474.8V189.1H476.4V188.9H479.1V189.0H480.4V188.9H482.1V188.8H484.0V189.0H486.4V189.1H488.6V188.9H490.0V189.0H491.0" fill="none" stroke="#555555" stroke-width="1.2"/>
<path d="M230.0,203.4V203.3H232.5V203.1H233.7V202.9H235.8V202.7H237.4V202.4H239.9V202.3H242.4V202.1H245.0V201.8H247.4V201.7H248.8V201.5H251.0V201.3H253.1V201.1H254.8V201.0H256.3V200.9H258.3V200.7H260.2V200.6H262.0V200.3H264.7V200.2H266.3V200.0H268.9V199.9H270.3V199.9H272.6V199.7H274.5V199.5H276.3V199.3H278.3V199.2H279.7V199.1H281.3V199.1H283.1V199.0H284.6V198.6H287.2V198.3H289.5V197.9H291.7V197.5H294.0V197.3H295.5V197.1H296.7V196.9H298.0V196.8H300.6V196.5H302.6V196.2H305.4V196.0H307.1V195.9H308.9V195.7H311.1V195.5H313.7V195.4H315.6V195.2H317.6V195.1H319.3V195.0H320.9V194.7H323.6V194.5H326.2V194.5H328.1V194.2H329.5V194.1H332.1V193.9H334.1V193.8H336.5V193.5H338.3V193.4H339.6V193.4H342.0V193.2H343.4V193.2H346.1V193.0H347.6V192.9H349.3V192.8H350.5V192.8H352.1V192.6H354.3V192.6H355.7V192.5H357.1V192.4H358.4V192.4H359.6V192.3H361.6V192.1H363.2V192.0H365.6V191.9H367.8V191.8H369.9V191.6H372.5V191.5H375.3V191.3H377.0V191.2H379.4V191.0H381.7V191.0H383.2V190.7H385.7V190.5H386.9V190.5H389.2V190.3H391.9V190.2H394.1V190.0H396.4V189.8H398.7V189.6H400.5V189.6H401.9V189.6H403.7V189.5H405.4V189.4H407.9V189.3H410.5V189.3H413.3V189.2H415.0V189.2H417.6V189.2H420.3V189.2H421.5V189.1H423.6V189.1H424.9V188.9H426.3V189.0H428.2V188.9H430.5V189.0H432.0V188.9H433.7V188.9H435.7V188.9H437.8V189.0H439.2V188.9H440.6V189.0H441.9V189.0H443.6V188.9H446.4V188.9H447.8V189.0H450.3V188.9H452.5V189.0H455.1V189.0H457.6V188.9H458.9V189.0H460.6V188.9H463.1V189.0H465.4V189.0H467.9V188.9H469.2V188.9H471.7V189.0H473.0" fill="none" stroke="#555555" stroke-width="2.8" stroke-dasharray="18 0.9 12 0.8 22 0.9"/>
<path d="M67.7,230.5V230.2H70.2V230.0H72.3V229.7H74.2V229.3H75.8V229.1H77.7V228.7H80.4V228.4H82.6V227.9H83.9V227.9H85.4V227.8H86.7V227.6H89.3V227.4H91.9V227.3H94.6V226.9H96.5V226.7H98.2V226.7H99.5V226.5H101.1V225.7H102.8V224.8H104.6V224.1H106.4V223.7H108.7V223.3H111.3V222.6H113.1V222.3H115.6V221.7H117.3V221.5H118.9V220.8H121.4V220.4H122.7V220.0H124.1V219.5H126.9V218.9H128.8V218.4H130.7V217.6H133.1V216.9H135.7V216.2H137.5V215.5H140.0V215.0H141.4V214.1H144.0V213.2H145.9V212.6H147.7V212.2H148.9V211.8H150.2V211.1H152.1V210.7H153.5V209.8H155.7V209.1H158.5V208.3H160.2V207.5H162.6V206.6H164.7V205.7H166.9V204.2H169.3V202.8H171.3V201.4H173.8V200.1H175.3V199.1H177.6V198.0H179.6V197.0H181.2V196.2H182.7V195.1H185.4V194.1H187.7V193.3H189.7V192.8H191.7V191.8H194.2V191.2H196.4V190.4H198.0V189.4H200.7V188.2H203.2V187.4H205.7V186.2H208.0V185.6H210.3V184.9H212.0V184.2H214.8V183.2H217.1V182.8H218.6V182.2H221.1V181.7H223.0V181.5H224.3V180.9H226.9V180.2H228.4V179.9H230.3V179.6H231.7V179.4H233.7V179.0H235.8V178.4H238.3V177.9H241.0V177.3H243.6V176.9H245.9V176.4H247.7V176.1H250.4V175.5H252.0V175.3H253.7V175.0H255.8V174.6H257.6V174.2H259.7V174.0H261.1V173.9H262.7V173.5H263.9V173.3H265.8V172.9H267.4V172.5H269.9V172.0H271.5V171.7H273.0V171.3H275.3V170.7H276.9V170.4H279.4V170.0H281.4V169.6H282.9V169.5H285.2V168.9H288.0V168.7H289.7V168.4H291.8V168.1H293.9V167.6H296.6V167.2H299.4V167.0H300.7V166.8H302.5V166.3H305.0V166.0H306.8V165.6H308.8V165.4H310.9V164.8H312.2V164.8H313.4V164.3H316.1V163.9H317.9V163.6H319.8V163.3H321.9V163.1H324.3V162.7H326.9V162.4H328.3V162.0H330.5V161.8H331.7V161.6H333.8V161.2H336.3V160.9H338.2V160.6H340.0V160.4H342.6V160.2H344.9V159.8H347.6V159.6H349.6V159.6H351.3V159.4H353.6V159.1H355.6V159.0H356.8V158.9H358.2V158.5H360.9V158.3H363.2V158.2H364.4V158.1H366.8V158.1H369.2V157.6H370.5V157.7H373.3V157.5H374.8V157.2H376.8V157.1H379.1V156.9H381.1V156.4H382.9V156.4H384.8V156.1H387.0V155.8H389.8V155.3H392.4V155.3H395.2V154.9H397.6V154.8H399.6V154.8H401.4V154.6H404.0V154.5H406.7V154.3H408.4V154.5H410.8V154.4H412.6V154.4H413.9V154.3H415.9V154.5H418.5V154.3H420.5V154.5H423.0V154.3H425.6V154.5H428.1V154.4H429.7V154.4H432.4V154.3H433.7V154.5H435.7V154.3H437.1V154.4H438.9V154.4H441.5V154.5H444.0V154.5H446.8V154.4H448.9V154.3H450.9V154.4H452.4V154.2H454.4V154.4H457.0V154.5H458.8V154.2H461.3V154.2H463.0V154.4H465.5V154.3H467.0V154.4H469.7V154.4H471.1V154.5H472.5V154.3H474.6V154.4H477.0V154.4H479.4V154.4H481.2V154.3H483.6V154.4H485.1V154.3H486.8V154.4H488.5V154.3H490.0V154.3H491.0" fill="none" stroke="#ee8227" stroke-width="1.4"/>
<path d="M230.0,179.8V179.7H231.3V179.5H232.6V179.0H235.3V178.5H237.2V178.0H239.6V177.7H241.6V177.2H243.9V176.8H246.0V176.5H247.4V176.1H249.1V175.7H251.3V175.5H252.8V175.2H255.5V174.8H256.8V174.6H258.9V174.1H261.5V173.7H263.8V173.4H265.3V173.1H266.6V172.8H269.0V172.3H270.8V171.9H272.2V171.6H273.6V171.1H275.8V170.8H277.1V170.5H278.8V169.9H281.5V169.6H283.1V169.3H285.6V169.0H286.9V168.8H288.4V168.6H289.7V168.3H292.0V168.0H294.1V167.6H296.6V167.4H299.1V166.9H301.4V166.5H302.8V166.4H304.7V166.0H306.0V165.7H308.5V165.3H310.3V164.9H312.2V164.5H314.8V164.2H317.6V163.5H319.8V163.3H321.6V162.9H324.2V162.7H326.8V162.3H328.3V162.2H330.2V161.7H332.9V161.4H335.7V161.1H338.4V160.7H340.4V160.6H341.8V160.2H344.4V160.1H346.0V159.8H348.1V159.7H350.0V159.5H352.5V159.1H354.3V159.0H356.1V158.7H358.7V158.6H361.0V158.4H363.8V158.2H365.2V158.0H366.6V158.0H368.9V157.7H370.9V157.6H373.5V157.4H375.5V157.2H376.7V157.2H378.7V156.8H380.3V156.6H382.8V156.4H385.3V156.1H387.9V155.7H389.2V155.6H391.3V155.3H392.9V155.3H395.6V155.1H397.1V154.9H399.3V154.8H401.6V154.6H403.2V154.6H405.3V154.4H406.7V154.4H408.0V154.4H409.6V154.4H411.0V154.3H412.9V154.4H415.1V154.5H417.8V154.3H419.4V154.3H421.4V154.5H423.7V154.3H425.4V154.5H427.1V154.3H428.9V154.3H431.4V154.4H433.2V154.4H435.6V154.4H437.1V154.3H438.8V154.3H440.4V154.3H442.0V154.4H443.5V154.4H445.3V154.3H447.8V154.3H450.0V154.4H452.8V154.4H454.5V154.4H456.2V154.4H457.8V154.3H459.8V154.4H461.2V154.4H463.7V154.3H465.6V154.4H466.8V154.3H468.8V154.3H470.7V154.4H472.2V154.4H473.0" fill="none" stroke="#ee8227" stroke-width="2.6" stroke-dasharray="20 0.8 14 0.8 25 0.8"/>
<path d="M67.7,230.5V230.4H69.9V229.8H72.3V226.6H74.9V225.9H76.8V225.6H78.1V224.9H80.8V224.4H82.1V223.7H84.0V223.3H85.4V222.5H87.4V221.6H89.9V220.8H91.1V220.4H93.1V219.6H95.0V218.6H97.2V218.1H99.9V217.9H102.1V217.8H103.4V217.5H105.2V217.3H107.1V217.1H108.6V217.0H111.2V215.8H113.0V215.0H114.7V215.1H116.3V214.7H118.3V214.2H120.8V214.0H122.2V213.4H124.2V213.5H125.9V213.3H127.2V212.8H129.0V212.3H131.2V211.9H133.4V211.4H136.2V210.7H138.5V209.8H141.2V208.7H143.6V207.3H145.9V205.9H148.5V204.4H151.1V203.8H153.5V203.0H155.2V202.5H156.9V201.9H159.5V201.4H160.7V200.7H162.5V200.3H165.1V199.9H166.7V199.6H168.7V199.2H170.5V198.5H172.7V198.1H175.2V197.0H176.5V196.5H178.4V195.7H181.0V194.6H182.8V193.2H185.6V192.1H187.2V191.0H189.2V189.7H190.7V188.4H193.3V186.6H195.3V184.5H197.8V182.7H200.1V181.2H201.7V179.9H204.3V178.7H205.6V176.9H208.3V172.6H210.7V167.4H212.3V165.6H214.4V163.7H216.2V162.7H218.1V161.5H220.8V160.1H222.8V159.7H224.9V159.2H226.2V158.8H227.5V158.4H229.4V157.0H231.3V155.7H234.0V153.8H236.1V151.8H238.7V149.5H240.9V147.8H243.5V146.4H245.3V145.8H246.5V144.8H248.9V143.5H251.1V142.7H252.7V142.0H254.2V141.2H256.2V140.4H258.8V139.2H261.1V138.6H263.0V137.6H265.1V136.9H266.8V136.3H268.7V135.3H270.2V134.7H272.5V134.1H273.7V133.2H275.7V132.7H277.1V132.0H278.5V131.0H280.9V130.7H283.5V130.3H285.5V130.1H288.3V129.7H290.6V129.2H292.7V128.7H294.8V128.8H296.0V128.2H297.4V128.0H299.8V127.7H301.6V127.1H304.3V126.5H306.0V126.1H307.6V125.4H309.2V124.7H311.8V123.9H313.9V123.3H315.5V123.1H316.8V122.8H319.0V122.3H320.2V122.1H322.8V121.3H324.2V121.1H326.6V121.1H329.2V121.2H330.9V121.3H333.0V121.1H335.3V121.2H337.2V121.2H339.1V120.6H341.7V119.3H343.3V118.5H345.4V117.3H346.6V116.6H348.8V116.1H351.5V115.8H353.3V115.6H355.7V115.3H357.4V115.1H359.2V114.7H361.1V114.2H363.7V113.8H365.4V113.7H366.7V113.8H368.8V113.3H370.9V113.0H373.1V112.7H375.0V112.4H376.7V111.3H379.0V110.2H380.6V109.4H382.2V108.6H383.7V107.7H385.0V107.3H386.6V107.1H388.8V107.1H390.7V107.0H392.6V107.0H394.2V106.7H395.8V106.6H398.1V106.5H400.8V105.9H402.2V105.2H404.5V104.1H407.2V103.4H409.3V102.6H411.9V101.6H413.4V101.5H415.9V101.1H417.3V100.9H418.8V100.8H420.2V100.8H421.4V100.5H423.8V100.2H425.5V100.3H427.3V99.9H429.7V99.5H431.3V99.3H433.9V99.6H435.4V99.6H438.1V99.5H440.7V99.5H442.7V99.6H445.4V99.5H448.0V99.3H450.7V99.4H452.4V99.3H454.2V99.4H455.9V99.2H457.8V99.4H459.9V99.4H462.5V99.2H464.2V99.4H466.3V99.3H468.0V99.4H469.9V99.3H471.1V99.5H473.2V99.3H475.4V99.1H477.5V99.1H480.1V99.3H482.2V99.1H483.8V99.3H486.5V99.2H488.4V99.1H489.9V99.2H491.0" fill="none" stroke="#2180c2" stroke-width="1.4"/>
<path d="M240.0,149.2V148.2H242.5V147.1H244.6V145.9H246.5V144.8H248.4V143.5H250.6V142.7H252.5V141.8H254.8V140.9H256.7V140.3H258.3V139.8H259.7V139.0H261.7V138.3H263.1V137.8H264.7V137.2H266.1V136.5H267.9V135.6H270.6V134.6H272.6V133.9H274.2V133.1H276.2V132.3H278.1V131.5H279.4V131.0H281.9V130.7H283.9V130.3H286.7V129.8H288.9V129.5H290.5V129.3H293.3V128.8H294.6V128.6H296.1V128.4H297.5V128.1H299.0V127.8H300.4V127.3H303.0V127.0H304.5V126.5H306.5V125.9H307.9V125.5H309.6V124.9H310.9V124.5H312.7V123.8H314.4V123.2H316.7V122.7H319.5V122.1H321.0V121.9H323.0V121.4H325.2V121.1H327.9V121.2H329.2V121.1H331.5V121.2H333.3V121.2H335.3V121.2H337.7V121.1H340.0V120.5H341.8V119.1H344.3V117.8H346.4V116.8H348.0V116.3H349.5V116.3H351.0V115.8H353.5V115.4H356.1V115.2H357.6V114.8H359.7V114.5H361.0V114.4H362.3V114.1H364.6V113.8H366.7V113.6H368.6V113.3H370.5V113.1H372.4V112.8H374.2V112.7H375.9V111.8H378.6V110.7H379.9V109.7H382.0V108.7H383.5V107.8H385.3V107.5H386.6V107.4H388.0V107.3H390.2V107.0H391.4V107.0H393.3V106.7H395.5V106.7H397.6V106.6H398.9V106.3H400.8V105.7H402.5V105.1H405.0V104.1H407.6V103.3H409.7V102.4H412.2V101.7H414.1V101.3H416.8V101.0H419.2V100.7H421.8V100.6H423.3V100.4H425.6V100.0H427.8V99.7H430.2V99.6H432.8V99.6H434.4V99.4H435.7V99.4H437.8V99.4H439.4V99.4H442.1V99.3H444.8V99.4H446.8V99.3H449.3V99.3H451.4V99.5H454.1V99.3H456.2V99.5H457.7V99.4H460.5V99.3H462.1V99.3H463.5V99.3H466.0V99.3H468.2V99.3H470.0" fill="none" stroke="#2180c2" stroke-width="2.4" stroke-dasharray="18 0.9 12 0.8 22 0.9"/>
<path d="M75.3,224.7v3.0M81.9,222.7v3.0M87.4,220.7v3.0M92.4,218.7v3.0M99.7,216.4v3.0M104.0,216.0v3.0M110.4,215.2v3.0M116.3,213.2v3.0M122.0,212.3v3.0M127.4,211.6v3.0M132.8,210.2v3.0M138.4,208.8v3.0M144.8,205.9v3.0M149.1,203.5v3.0M155.8,201.1v3.0M162.0,199.2v3.0M166.9,198.1v3.0M172.7,196.9v3.0M178.8,194.5v3.0M184.7,191.6v3.0M189.4,188.7v3.0M195.7,183.8v3.0M201.8,179.0v3.0M207.1,175.4v3.0M212.0,165.6v3.0M219.2,160.0v3.0M223.6,158.2v3.0M229.9,155.9v3.0M234.4,153.1v3.0M241.4,146.8v3.0" stroke="#2180c2" stroke-width="0.9"/>
<path d="M121.1,219.1v3.0M130.3,216.6v3.0M137.4,214.5v3.0M145.4,211.7v3.0M154.5,208.4v3.0M163.2,205.4v3.0M172.1,200.1v3.0M179.8,195.9v3.0M189.2,191.7v3.0M197.9,188.6v3.0M204.7,185.7v3.0M215.0,182.1v3.0M221.7,180.3v3.0M230.5,178.2v3.0" stroke="#ee8227" stroke-width="0.9"/>
<path d="M120.2,226.0v3.0M129.4,225.1v3.0M137.6,223.6v3.0M144.0,222.5v3.0M152.4,221.0v3.0M161.1,219.5v3.0M168.5,218.1v3.0M175.3,216.8v3.0M183.5,215.2v3.0M192.3,213.5v3.0M200.0,211.9v3.0M207.1,210.3v3.0M215.1,208.6v3.0M221.9,207.1v3.0M230.4,205.2v3.0M239.0,202.5v3.0M245.3,200.6v3.0M253.4,198.1v3.0M262.0,196.1v3.0M268.7,194.8v3.0M276.9,193.3v3.0M285.9,191.6v3.0M292.5,190.4v3.0M301.0,188.9v3.0" stroke="#9c9c9c" stroke-width="0.9"/>
<path d="M121.9,223.0v3.0M129.5,221.9v3.0M138.3,220.6v3.0M145.5,219.2v3.0M154.9,217.3v3.0M163.4,215.2v3.0M171.7,212.1v3.0M180.2,209.8v3.0M187.8,208.0v3.0M197.4,206.0v3.0M205.3,204.8v3.0M214.5,203.5v3.0M222.0,202.7v3.0M231.8,201.7v3.0" stroke="#555555" stroke-width="0.9"/>
<path d="M247.3,143.3v3.2M263.6,136.2v3.2M276.9,130.8v3.2M287.7,128.3v3.2M300.0,126.1v3.2M310.8,123.1v3.2M324.1,119.8v3.2M335.8,119.6v3.2M346.4,115.7v3.2M364.4,112.5v3.2M382.1,107.5v3.2M395.2,105.1v3.2M408.9,101.5v3.2M425.1,98.6v3.2M439.4,97.9v3.2M451.6,97.8v3.2M464.6,97.7v3.2" stroke="#b8e3fa" stroke-width="0.7" opacity="0.6"/>
<path d="M235.3,177.2v3.2M247.4,174.7v3.2M256.3,173.1v3.2M269.9,170.6v3.2M278.2,168.8v3.2M290.6,166.8v3.2M299.9,165.4v3.2M311.3,163.4v3.2M329.0,160.5v3.2M339.4,159.1v3.2M351.1,157.8v3.2M367.1,156.4v3.2M377.2,155.6v3.2M387.5,154.3v3.2M399.7,153.2v3.2M413.8,152.8v3.2M423.9,152.8v3.2M434.4,152.8v3.2M443.0,152.8v3.2M453.7,152.7v3.2M465.6,152.7v3.2" stroke="#fde2c6" stroke-width="0.7" opacity="0.6"/>
<path d="M306.5,188.3v3.2M319.7,186.9v3.2M335.6,185.3v3.2M346.4,184.2v3.2M361.6,182.5v3.2M377.2,180.1v3.2M394.4,177.9v3.2M409.8,177.1v3.2M424.2,176.4v3.2M438.6,176.1v3.2M450.4,176.1v3.2M467.3,176.1v3.2" stroke="#e4e4e4" stroke-width="0.7" opacity="0.6"/>
<path d="M236.8,200.9v3.6M246.1,200.0v3.6M259.2,198.9v3.6M276.2,197.6v3.6M290.6,196.1v3.6M298.8,195.0v3.6M315.6,193.5v3.6M324.2,192.9v3.6M334.1,192.1v3.6M346.9,191.2v3.6M355.1,190.7v3.6M371.0,189.8v3.6M385.9,188.8v3.6M403.5,187.7v3.6M418.0,187.4v3.6M430.3,187.1v3.6M440.6,187.1v3.6M451.8,187.1v3.6M466.1,187.2v3.6" stroke="#cfcfcf" stroke-width="0.7" opacity="0.6"/>
<path d="M489.5,97.4L491.8,99.2L489.5,101.0" fill="none" stroke="#2180c2" stroke-width="0.9"/>
<path d="M489.5,152.5L491.8,154.3L489.5,156.1" fill="none" stroke="#ee8227" stroke-width="0.9"/>
<path d="M489.5,175.9L491.8,177.7L489.5,179.5" fill="none" stroke="#9c9c9c" stroke-width="0.9"/>
<path d="M489.5,187.2L491.8,189.0L489.5,190.8" fill="none" stroke="#555555" stroke-width="0.9"/>
</g>
<g id="axes">
<path d="M46.5,72.5V237.5H512.3" fill="none" stroke="#222" stroke-width="1.1"/><path d="M43.0,230.5H46.5M43.0,190.5H46.5M43.0,150.5H46.5M43.0,110.5H46.5M67.8,237.5V241M106.8,237.5V241M145.8,237.5V241M184.8,237.5V241M223.8,237.5V241M262.8,237.5V241M301.8,237.5V241M340.8,237.5V241M379.8,237.5V241M418.8,237.5V241M457.8,237.5V241" stroke="#222" stroke-width="1"/>
<g font-size="8.3" fill="#222" stroke="#222" stroke-width="0.12"><text x="39.7" y="233.7" text-anchor="end" font-size="8.9">0</text><text x="39.7" y="193.7" text-anchor="end" font-size="8.9">3</text><text x="39.7" y="153.7" text-anchor="end" font-size="8.9">6</text><text x="39.7" y="113.7" text-anchor="end" font-size="8.9">9</text><text transform="translate(67.8,251.3) scale(1.08,1)" text-anchor="middle">0</text><text transform="translate(106.8,251.3) scale(1.08,1)" text-anchor="middle">30</text><text transform="translate(145.8,251.3) scale(1.08,1)" text-anchor="middle">60</text><text transform="translate(184.8,251.3) scale(1.08,1)" text-anchor="middle">90</text><text transform="translate(223.8,251.3) scale(1.08,1)" text-anchor="middle">120</text><text transform="translate(262.8,251.3) scale(1.08,1)" text-anchor="middle">150</text><text transform="translate(301.8,251.3) scale(1.08,1)" text-anchor="middle">180</text><text transform="translate(340.8,251.3) scale(1.08,1)" text-anchor="middle">210</text><text transform="translate(379.8,251.3) scale(1.08,1)" text-anchor="middle">240</text><text transform="translate(418.8,251.3) scale(1.08,1)" text-anchor="middle">270</text><text transform="translate(457.8,251.3) scale(1.08,1)" text-anchor="middle">300</text></g>
</g>
<!-- y label -->
<g transform="translate(16.6,156.3) rotate(-90)" font-size="10" fill="#222" stroke="#222" stroke-width="0.35">
<text x="0" y="0" text-anchor="middle" transform="scale(0.749,1)">Cumulative incidence (%) of</text>
</g>
<g transform="translate(29.3,156.5) rotate(-90)" font-size="10" fill="#222" stroke="#222" stroke-width="0.35">
<text x="0" y="0" text-anchor="middle" transform="scale(0.72,1)">breakthrough SARS-CoV-2 infection</text>
</g>
<g transform="translate(278.8,265.5)" font-size="9.4" fill="#222" stroke="#222" stroke-width="0.25"><text x="0" y="0" text-anchor="middle" transform="scale(0.77,1)">Time (days)</text></g>

<!-- legend -->
<g id="legend" font-size="8.5" fill="#222" stroke="#222" stroke-width="0.1">
<rect x="288.5" y="216.5" width="11.5" height="10.3" fill="#aad9f5" stroke="none"/><path d="M288.5,221.6h11.5M294.2,219.6v4" stroke="#2180c2" stroke-width="1.3"/>
<text x="303.4" y="224.3" textLength="13.6" lengthAdjust="spacingAndGlyphs">MM</text>
<rect x="320.3" y="216.5" width="11.5" height="10.3" fill="#fbcfa9" stroke="none"/><path d="M320.3,221.6h11.5M326,219.6v4" stroke="#ee8227" stroke-width="1.3"/>
<text x="335.1" y="224.3" textLength="25.7" lengthAdjust="spacingAndGlyphs">MGUS</text>
<rect x="364.2" y="216.5" width="11.2" height="10.3" fill="#e0e0e0" stroke="none"/><path d="M364.2,221.6h11.2M369.8,219.6v4" stroke="#9c9c9c" stroke-width="1.3"/>
<text x="378.6" y="224.3" textLength="39.8" lengthAdjust="spacingAndGlyphs">MM Control</text>
<rect x="423.3" y="216.5" width="11.2" height="10.3" fill="#bdbdbd" stroke="none"/><path d="M423.3,221.6h11.2M428.9,219.6v4" stroke="#555555" stroke-width="1.3"/>
<text x="438.6" y="224.3" textLength="54.2" lengthAdjust="spacingAndGlyphs">MGUS Control</text>
</g>

<!-- bottom tables -->
<text x="46.9" y="279.9" font-size="8.5" fill="#222" stroke="#222" stroke-width="0.1" textLength="110.4" lengthAdjust="spacingAndGlyphs">Cumulative number of events</text>
<path d="M46.7,285.7V326.2H512.8" fill="none" stroke="#222" stroke-width="1.2"/>
<g font-size="8.9"><g fill="#2f87c9" stroke="#2f87c9" stroke-width="0.1"><text transform="translate(67.8,293.4) scale(1.0,1)" text-anchor="middle">0</text><text transform="translate(106.8,293.4) scale(1.0,1)" text-anchor="middle">16</text><text transform="translate(145.8,293.4) scale(1.0,1)" text-anchor="middle">28</text><text transform="translate(184.8,293.4) scale(1.0,1)" text-anchor="middle">49</text><text transform="translate(223.8,293.4) scale(1.0,1)" text-anchor="middle">90</text><text transform="translate(262.8,293.4) scale(1.0,1)" text-anchor="middle">119</text><text transform="translate(301.8,293.4) scale(1.0,1)" text-anchor="middle">130</text><text transform="translate(340.8,293.4) scale(1.0,1)" text-anchor="middle">140</text><text transform="translate(379.8,293.4) scale(1.0,1)" text-anchor="middle">154</text><text transform="translate(418.8,293.4) scale(1.0,1)" text-anchor="middle">165</text><text transform="translate(457.8,293.4) scale(1.0,1)" text-anchor="middle">167</text></g><rect x="33.7" y="289.5" width="9.6" height="2.4" fill="#2f87c9"/><g fill="#ea7f2d" stroke="#ea7f2d" stroke-width="0.1"><text transform="translate(67.8,303.5) scale(1.0,1)" text-anchor="middle">0</text><text transform="translate(106.8,303.5) scale(1.0,1)" text-anchor="middle">27</text><text transform="translate(145.8,303.5) scale(1.0,1)" text-anchor="middle">84</text><text transform="translate(184.8,303.5) scale(1.0,1)" text-anchor="middle">175</text><text transform="translate(223.8,303.5) scale(1.0,1)" text-anchor="middle">242</text><text transform="translate(262.8,303.5) scale(1.0,1)" text-anchor="middle">275</text><text transform="translate(301.8,303.5) scale(1.0,1)" text-anchor="middle">310</text><text transform="translate(340.8,303.5) scale(1.0,1)" text-anchor="middle">344</text><text transform="translate(379.8,303.5) scale(1.0,1)" text-anchor="middle">359</text><text transform="translate(418.8,303.5) scale(1.0,1)" text-anchor="middle">371</text><text transform="translate(457.8,303.5) scale(1.0,1)" text-anchor="middle">371</text></g><rect x="33.7" y="299.6" width="9.6" height="2.4" fill="#ea7f2d"/><g fill="#a8a8a8" stroke="#a8a8a8" stroke-width="0.1"><text transform="translate(67.8,313.6) scale(1.0,1)" text-anchor="middle">0</text><text transform="translate(106.8,313.6) scale(1.0,1)" text-anchor="middle">6</text><text transform="translate(145.8,313.6) scale(1.0,1)" text-anchor="middle">9</text><text transform="translate(184.8,313.6) scale(1.0,1)" text-anchor="middle">15</text><text transform="translate(223.8,313.6) scale(1.0,1)" text-anchor="middle">29</text><text transform="translate(262.8,313.6) scale(1.0,1)" text-anchor="middle">43</text><text transform="translate(301.8,313.6) scale(1.0,1)" text-anchor="middle">50</text><text transform="translate(340.8,313.6) scale(1.0,1)" text-anchor="middle">53</text><text transform="translate(379.8,313.6) scale(1.0,1)" text-anchor="middle">59</text><text transform="translate(418.8,313.6) scale(1.0,1)" text-anchor="middle">64</text><text transform="translate(457.8,313.6) scale(1.0,1)" text-anchor="middle">67</text></g><rect x="33.7" y="309.7" width="9.6" height="2.4" fill="#a8a8a8"/><g fill="#222222" stroke="#222222" stroke-width="0.1"><text transform="translate(67.8,323.8) scale(1.0,1)" text-anchor="middle">0</text><text transform="translate(106.8,323.8) scale(1.0,1)" text-anchor="middle">17</text><text transform="translate(145.8,323.8) scale(1.0,1)" text-anchor="middle">52</text><text transform="translate(184.8,323.8) scale(1.0,1)" text-anchor="middle">97</text><text transform="translate(223.8,323.8) scale(1.0,1)" text-anchor="middle">123</text><text transform="translate(262.8,323.8) scale(1.0,1)" text-anchor="middle">143</text><text transform="translate(301.8,323.8) scale(1.0,1)" text-anchor="middle">161</text><text transform="translate(340.8,323.8) scale(1.0,1)" text-anchor="middle">180</text><text transform="translate(379.8,323.8) scale(1.0,1)" text-anchor="middle">189</text><text transform="translate(418.8,323.8) scale(1.0,1)" text-anchor="middle">200</text><text transform="translate(457.8,323.8) scale(1.0,1)" text-anchor="middle">200</text></g><rect x="33.7" y="319.9" width="9.6" height="2.4" fill="#222222"/></g>
<text x="47.1" y="344.4" font-size="8.5" fill="#222" stroke="#222" stroke-width="0.1" textLength="54.4" lengthAdjust="spacingAndGlyphs">Number at risk</text>
<path d="M46.6,349.2V390.5H512.5" fill="none" stroke="#222" stroke-width="1.2"/>
<g font-size="8.8"><g fill="#2f87c9" stroke="#2f87c9" stroke-width="0.1"><text transform="translate(67.8,357.5) scale(1.0,1)" text-anchor="middle">1706</text><text transform="translate(106.8,357.5) scale(1.0,1)" text-anchor="middle">1677</text><text transform="translate(145.8,357.5) scale(1.0,1)" text-anchor="middle">1642</text><text transform="translate(184.8,357.5) scale(1.0,1)" text-anchor="middle">1596</text><text transform="translate(223.8,357.5) scale(1.0,1)" text-anchor="middle">1519</text><text transform="translate(262.8,357.5) scale(1.0,1)" text-anchor="middle">1449</text><text transform="translate(301.8,357.5) scale(1.0,1)" text-anchor="middle">1369</text><text transform="translate(340.8,357.5) scale(1.0,1)" text-anchor="middle">1208</text><text transform="translate(379.8,357.5) scale(1.0,1)" text-anchor="middle">1006</text><text transform="translate(418.8,357.5) scale(1.0,1)" text-anchor="middle">737</text><text transform="translate(457.8,357.5) scale(1.0,1)" text-anchor="middle">193</text></g><rect x="33.7" y="353.6" width="9.6" height="2.4" fill="#2f87c9"/><g fill="#ea7f2d" stroke="#ea7f2d" stroke-width="0.1"><text transform="translate(67.8,367.7) scale(1.0,1)" text-anchor="middle">6503</text><text transform="translate(106.8,367.7) scale(1.0,1)" text-anchor="middle">6421</text><text transform="translate(145.8,367.7) scale(1.0,1)" text-anchor="middle">6295</text><text transform="translate(184.8,367.7) scale(1.0,1)" text-anchor="middle">6144</text><text transform="translate(223.8,367.7) scale(1.0,1)" text-anchor="middle">5974</text><text transform="translate(262.8,367.7) scale(1.0,1)" text-anchor="middle">5742</text><text transform="translate(301.8,367.7) scale(1.0,1)" text-anchor="middle">5301</text><text transform="translate(340.8,367.7) scale(1.0,1)" text-anchor="middle">4112</text><text transform="translate(379.8,367.7) scale(1.0,1)" text-anchor="middle">2227</text><text transform="translate(418.8,367.7) scale(1.0,1)" text-anchor="middle">587</text><text transform="translate(457.8,367.7) scale(1.0,1)" text-anchor="middle">110</text></g><rect x="33.7" y="363.8" width="9.6" height="2.4" fill="#ea7f2d"/><g fill="#a8a8a8" stroke="#a8a8a8" stroke-width="0.1"><text transform="translate(67.8,377.9) scale(1.0,1)" text-anchor="middle">1706</text><text transform="translate(106.8,377.9) scale(1.0,1)" text-anchor="middle">1688</text><text transform="translate(145.8,377.9) scale(1.0,1)" text-anchor="middle">1656</text><text transform="translate(184.8,377.9) scale(1.0,1)" text-anchor="middle">1621</text><text transform="translate(223.8,377.9) scale(1.0,1)" text-anchor="middle">1577</text><text transform="translate(262.8,377.9) scale(1.0,1)" text-anchor="middle">1517</text><text transform="translate(301.8,377.9) scale(1.0,1)" text-anchor="middle">1432</text><text transform="translate(340.8,377.9) scale(1.0,1)" text-anchor="middle">1271</text><text transform="translate(379.8,377.9) scale(1.0,1)" text-anchor="middle">1060</text><text transform="translate(418.8,377.9) scale(1.0,1)" text-anchor="middle">770</text><text transform="translate(457.8,377.9) scale(1.0,1)" text-anchor="middle">202</text></g><rect x="33.7" y="374.0" width="9.6" height="2.4" fill="#a8a8a8"/><g fill="#222222" stroke="#222222" stroke-width="0.1"><text transform="translate(67.8,388.1) scale(1.0,1)" text-anchor="middle">6503</text><text transform="translate(106.8,388.1) scale(1.0,1)" text-anchor="middle">6407</text><text transform="translate(145.8,388.1) scale(1.0,1)" text-anchor="middle">6276</text><text transform="translate(184.8,388.1) scale(1.0,1)" text-anchor="middle">6116</text><text transform="translate(223.8,388.1) scale(1.0,1)" text-anchor="middle">5961</text><text transform="translate(262.8,388.1) scale(1.0,1)" text-anchor="middle">5708</text><text transform="translate(301.8,388.1) scale(1.0,1)" text-anchor="middle">5241</text><text transform="translate(340.8,388.1) scale(1.0,1)" text-anchor="middle">4078</text><text transform="translate(379.8,388.1) scale(1.0,1)" text-anchor="middle">2205</text><text transform="translate(418.8,388.1) scale(1.0,1)" text-anchor="middle">577</text><text transform="translate(457.8,388.1) scale(1.0,1)" text-anchor="middle">113</text></g><rect x="33.7" y="384.2" width="9.6" height="2.4" fill="#222222"/></g>

<text x="62.7" y="15.4" font-size="8.8" font-style="italic" fill="#222" textLength="161.9" lengthAdjust="spacingAndGlyphs">Breakthrough SARS-CoV-2 Infection HRs</text>
<rect x="51.5" y="20.6" width="184.0" height="47.2" fill="#fff" stroke="#d6d6d6" stroke-width="0.7"/>
<rect x="51.5" y="20.6" width="184.0" height="21.5" fill="#a7a7a7"/>
<path d="M51.5,54.5H235.5" stroke="#d6d6d6" stroke-width="0.7"/>
<g font-size="8.65" fill="#222">
<text x="53.5" y="34.4" textLength="30.3" lengthAdjust="spacingAndGlyphs">Disease</text>
<text x="88.4" y="29.5" textLength="59.6" lengthAdjust="spacingAndGlyphs">#Breakthrough/</text>
<text x="88.4" y="39.2" textLength="36.0" lengthAdjust="spacingAndGlyphs">#Patients</text>
<text x="151.2" y="34.4" textLength="50.6" lengthAdjust="spacingAndGlyphs">HR (95% CI)</text>
<text x="218.8" y="34.4" text-anchor="middle" font-style="italic">P</text>
<text x="53.5" y="51.0" textLength="14.9" lengthAdjust="spacingAndGlyphs">MM</text>
<text x="88.4" y="51.0" textLength="38.9" lengthAdjust="spacingAndGlyphs">168/1706</text>
<text x="152.2" y="51.0" textLength="49.0" lengthAdjust="spacingAndGlyphs">2.6 (2.0-3.4)</text>
<path d="M211.3,45.95L205.5,48.30L211.3,50.65" fill="none" stroke="#2a2a2a" stroke-width="0.85"/>
<text x="213.3" y="51.0" textLength="17.9" lengthAdjust="spacingAndGlyphs">.001</text>
<text x="53.5" y="64.0" textLength="26.9" lengthAdjust="spacingAndGlyphs">MGUS</text>
<text x="88.4" y="64.0" textLength="38.9" lengthAdjust="spacingAndGlyphs">371/6503</text>
<text x="152.2" y="64.0" textLength="49.0" lengthAdjust="spacingAndGlyphs">1.9 (1.6-2.3)</text>
<path d="M211.3,58.95L205.5,61.30L211.3,63.65" fill="none" stroke="#2a2a2a" stroke-width="0.85"/>
<text x="213.3" y="64.0" textLength="17.9" lengthAdjust="spacingAndGlyphs">.001</text>
</g>
<text x="71" y="83.5" font-size="8.8" font-style="italic" fill="#222" textLength="145.5" lengthAdjust="spacingAndGlyphs">Breakthrough Severe COVID-19 HRs</text>
<rect x="51.5" y="88.8" width="183.5" height="46.5" fill="#fff" stroke="#d6d6d6" stroke-width="0.7"/>
<rect x="51.5" y="88.8" width="183.5" height="20.5" fill="#a7a7a7"/>
<path d="M51.5,122.3H235.0" stroke="#d6d6d6" stroke-width="0.7"/>
<g font-size="8.65" fill="#222">
<text x="53.5" y="102.0" textLength="30.3" lengthAdjust="spacingAndGlyphs">Disease</text>
<text x="88.4" y="97.7" textLength="59.6" lengthAdjust="spacingAndGlyphs">#Breakthrough/</text>
<text x="88.4" y="107.4" textLength="36.0" lengthAdjust="spacingAndGlyphs">#Patients</text>
<text x="151.2" y="102.0" textLength="50.6" lengthAdjust="spacingAndGlyphs">HR (95% CI)</text>
<text x="218.8" y="102.0" text-anchor="middle" font-style="italic">P</text>
<text x="53.5" y="119.3" textLength="14.9" lengthAdjust="spacingAndGlyphs">MM</text>
<text x="88.4" y="119.3" textLength="34.2" lengthAdjust="spacingAndGlyphs">38/1706</text>
<text x="152.2" y="119.3" textLength="49.0" lengthAdjust="spacingAndGlyphs">2.4 (1.3-4.3)</text>
<text x="209.8" y="119.3" textLength="18.0" lengthAdjust="spacingAndGlyphs">.003</text>
<text x="53.5" y="132.4" textLength="26.9" lengthAdjust="spacingAndGlyphs">MGUS</text>
<text x="88.4" y="132.4" textLength="34.2" lengthAdjust="spacingAndGlyphs">64/6503</text>
<text x="152.2" y="132.4" textLength="49.0" lengthAdjust="spacingAndGlyphs">1.1 (0.7-1.5)</text>
<text x="210.2" y="132.4" textLength="16.9" lengthAdjust="spacingAndGlyphs">.742</text>
</g>
</svg>
</body></html>
